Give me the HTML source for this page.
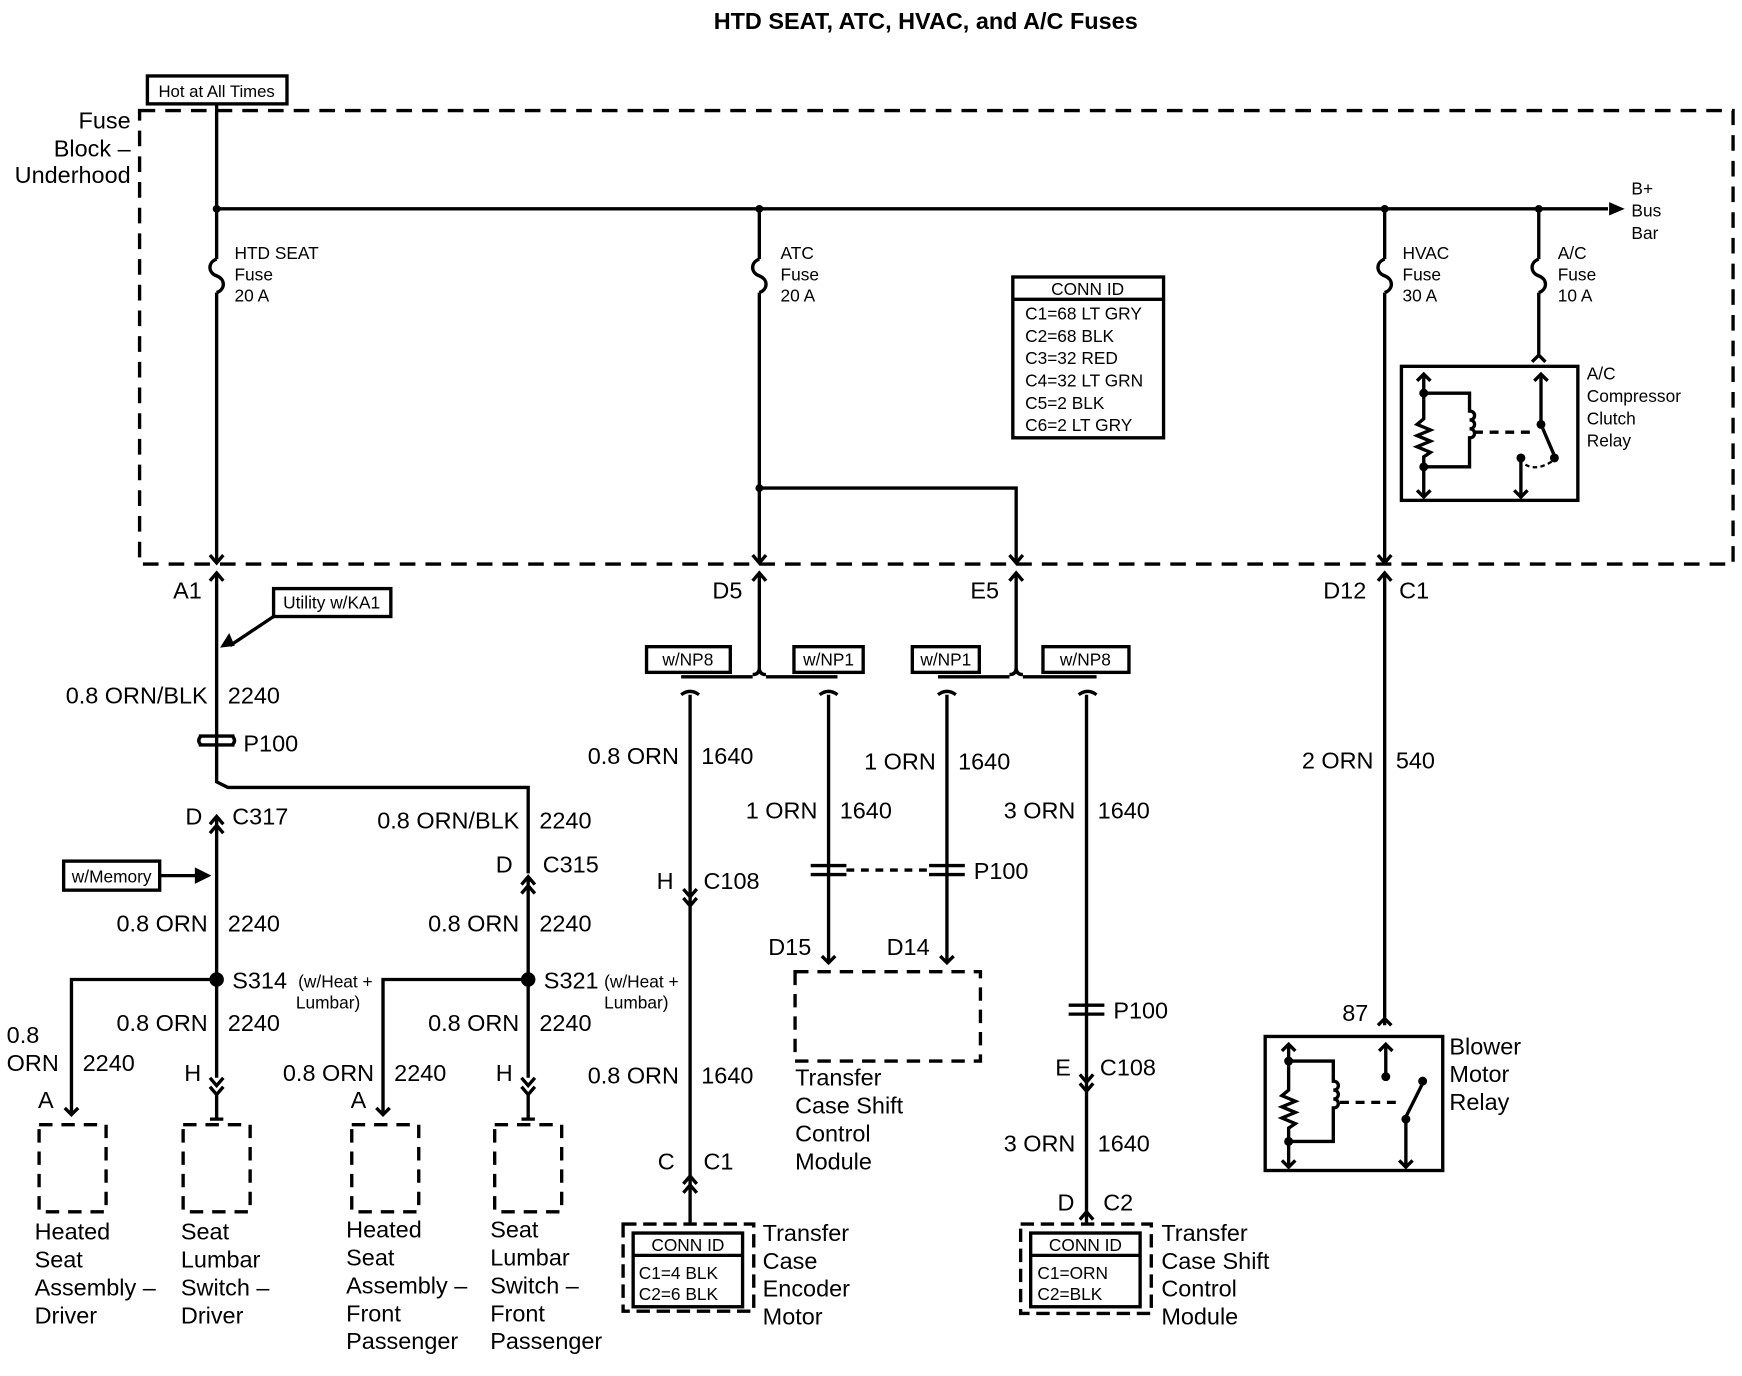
<!DOCTYPE html>
<html><head><meta charset="utf-8"><style>
html,body{margin:0;padding:0;background:#fff}
svg{display:block}
text{font-family:"Liberation Sans",Arial,sans-serif;fill:#000}
.m{font-size:21px}
.s{font-size:15.5px}
.b{font-size:15px}
</style></head><body>
<svg width="1742" height="1376" viewBox="0 0 1560 1232" preserveAspectRatio="none" xmlns="http://www.w3.org/2000/svg">
<g fill="none" stroke="#000" stroke-width="3">
<!-- fuse block dashed -->
<rect x="125" y="99" width="1427" height="406" stroke-dasharray="14,9"/>
<rect x="132" y="68" width="125" height="25"/>
<!-- bus -->
<line x1="194" y1="187" x2="1440" y2="187"/>
<!-- HTD seat wire -->
<path d="M194 93 V232 M194 262 V503"/>
<path d="M194 232 c-8 3 -8 12 0 15 c8 3 8 12 0 15"/>
<!-- ATC -->
<path d="M680 187 V232 M680 262 V503 M680 437 H910 V503"/>
<path d="M680 232 c-8 3 -8 12 0 15 c8 3 8 12 0 15"/>
<!-- HVAC -->
<path d="M1240 187 V232 M1240 262 V503"/>
<path d="M1240 232 c-8 3 -8 12 0 15 c8 3 8 12 0 15"/>
<!-- A/C -->
<path d="M1378 187 V232 M1378 262 V318"/>
<path d="M1378 232 c-8 3 -8 12 0 15 c8 3 8 12 0 15"/>
<path d="M1372 324 l6 -6 l6 6"/>
<!-- A/C relay -->
<rect x="1255" y="328" width="158" height="120"/>
<path d="M1275 335 V358 M1275 418 V445 M1269 341 l6 -6 l6 6 M1269 439 l6 6 l6 -6"/>
<path d="M1275 358 V375 l-6 5 l12 5 l-12 5 l12 5 l-12 5 l12 5 l-6 4 V418"/>
<path d="M1275 352 H1316 V368 c6 0 6 8 0 8 c6 0 6 8 0 8 c6 0 6 8 0 8 V418 H1275"/>
<path d="M1320 387 H1374" stroke-dasharray="8,6"/>
<path d="M1380 335 V380 L1392 408 M1374 341 l6 -6 l6 6"/>
<path d="M1362 410 V446 M1356 439 l6 6 l6 -6"/>
<path d="M1366 416 q10 6 24 -3" stroke-width="2" stroke-dasharray="4,3"/>
<!-- CONN ID -->
<rect x="907" y="248" width="135" height="144"/>
<line x1="907" y1="268" x2="1042" y2="268"/>
<!-- chevrons at fuse block bottom -->
<path d="M188 497 l6 7 l6 -7 M188 520 l6 -7 l6 7 M674 497 l6 7 l6 -7 M674 520 l6 -7 l6 7 M904 497 l6 7 l6 -7 M904 520 l6 -7 l6 7 M1234 497 l6 7 l6 -7 M1234 520 l6 -7 l6 7"/>
<!-- left column -->
<path d="M194 513 V700 L204 705 H473 V782"/>
<rect x="245" y="527" width="105" height="25"/>
<path d="M245 552 L206 578"/>
<path d="M200 578 l8 -1 l-3 -7 z" fill="#000"/>
<path d="M178 659 h32 M178 667 h32 M180 659 q-4 4 0 8 M208 659 q4 4 0 8"/>
<path d="M188 738 l6 -7 l6 7 M188 746 l6 -7 l6 7 M194 731 V965"/>
<rect x="57" y="771" width="86" height="26"/>
<path d="M143 784 H178"/><path d="M186 784 l-10 -5 v10 z" fill="#000"/>
<path d="M467 792 l6 -7 l6 7 M467 800 l6 -7 l6 7 M473 785 V965"/>
<circle cx="194" cy="877" r="5" fill="#000"/><circle cx="473" cy="877" r="5" fill="#000"/>
<path d="M194 877 H64 V998 M58 992 l6 6 l6 -6"/>
<path d="M473 877 H343 V998 M337 992 l6 6 l6 -6"/>
<path d="M188 965 l6 7 l6 -7 M188 973 l6 7 l6 -7 M194 980 V1002 M188 1002 h12"/>
<path d="M467 965 l6 7 l6 -7 M467 973 l6 7 l6 -7 M473 980 V1002 M467 1002 h12"/>
<g stroke-dasharray="12,8">
<rect x="35" y="1007" width="60" height="78"/><rect x="164" y="1007" width="60" height="78"/>
<rect x="315" y="1007" width="60" height="78"/><rect x="443" y="1007" width="60" height="78"/>
<rect x="712" y="870" width="166" height="80"/>
</g>
<!-- D5 / E5 branches -->
<path d="M680 513 V598 q0 6 -6 6 M680 598 q0 6 6 6"/>
<path d="M610 606 H674 M686 606 H750"/>
<path d="M610 622 q8 -6 16 0 M734 622 q8 -6 16 0"/>
<path d="M910 513 V598 q0 6 -6 6 M910 598 q0 6 6 6"/>
<path d="M840 606 H904 M916 606 H982"/>
<path d="M840 622 q8 -6 16 0 M966 622 q8 -6 16 0"/>
<rect x="579" y="579" width="75" height="23"/><rect x="711" y="579" width="62" height="23"/>
<rect x="817" y="579" width="60" height="23"/><rect x="934" y="579" width="77" height="23"/>
<path d="M618 622 V1095 M742 622 V860 M848 622 V860 M973 622 V1095"/>
<path d="M612 796 l6 7 l6 -7 M612 804 l6 7 l6 -7"/>
<path d="M612 1060 l6 -7 l6 7 M612 1068 l6 -7 l6 7"/>
<path d="M726 775 h32 M726 783 h32 M832 775 h32 M832 783 h32"/>
<path d="M758 779 H832" stroke-dasharray="7,6"/>
<path d="M736 856 l6 6 l6 -6 M842 856 l6 6 l6 -6"/>
<path d="M957 900 h32 M957 908 h32"/>
<path d="M967 962 l6 7 l6 -7 M967 970 l6 7 l6 -7"/>
<path d="M967 1092 l6 -7 l6 7"/>
<rect x="558" y="1096" width="117" height="78" stroke-dasharray="12,6"/>
<rect x="567" y="1104" width="98" height="66"/><line x1="567" y1="1124" x2="665" y2="1124"/>
<rect x="914" y="1096" width="117" height="80" stroke-dasharray="12,6"/>
<rect x="923" y="1104" width="98" height="66"/><line x1="923" y1="1124" x2="1021" y2="1124"/>
<!-- right HVAC -->
<path d="M1240 513 V918 M1234 918 l6 -6 l6 6"/>
<rect x="1133" y="928" width="159" height="120"/>
<path d="M1154 935 V955 M1154 1022 V1045 M1148 941 l6 -6 l6 6 M1148 1039 l6 6 l6 -6"/>
<path d="M1154 955 V976 l-6 5 l12 5 l-12 5 l12 5 l-12 5 l12 5 l-6 4 V1022"/>
<path d="M1154 950 H1194 V968 c6 0 6 8 0 8 c6 0 6 8 0 8 c6 0 6 8 0 8 V1022 H1154"/>
<path d="M1200 987 H1254" stroke-dasharray="8,6"/>
<path d="M1241 935 V964 M1235 941 l6 -6 l6 6"/>
<path d="M1259 1005 V1045 M1253 1039 l6 6 l6 -6 M1259 1000 L1274 970"/>
</g>
<g fill="#000">
<circle cx="194" cy="187" r="3.5"/><circle cx="680" cy="187" r="3.5"/><circle cx="1240" cy="187" r="3.5"/><circle cx="1378" cy="187" r="3.5"/>
<circle cx="680" cy="437" r="3.5"/>
<path d="M1455 187 l-14 -6 v12 z"/>
<circle cx="1275" cy="352" r="4"/><circle cx="1275" cy="418" r="4"/><circle cx="1380" cy="380" r="4"/><circle cx="1392" cy="410" r="4"/><circle cx="1362" cy="410" r="4"/>
<circle cx="1154" cy="950" r="4"/><circle cx="1154" cy="1022" r="4"/><circle cx="1241" cy="964" r="4"/><circle cx="1274" cy="968" r="4"/><circle cx="1259" cy="1002" r="4"/>
</g>
<text x="829" y="26" text-anchor="middle" style="font-size:21px;font-weight:bold">HTD SEAT, ATC, HVAC, and A/C Fuses</text>
<text x="194" y="87" text-anchor="middle" class="b">Hot at All Times</text>
<g class="m" text-anchor="end"><text x="117" y="115">Fuse</text><text x="117" y="140">Block –</text><text x="117" y="164">Underhood</text></g>
<g class="s">
<text x="1461" y="174">B+</text><text x="1461" y="194">Bus</text><text x="1461" y="214">Bar</text>
<text x="210" y="232">HTD SEAT</text><text x="210" y="251">Fuse</text><text x="210" y="270">20 A</text>
<text x="699" y="232">ATC</text><text x="699" y="251">Fuse</text><text x="699" y="270">20 A</text>
<text x="1256" y="232">HVAC</text><text x="1256" y="251">Fuse</text><text x="1256" y="270">30 A</text>
<text x="1395" y="232">A/C</text><text x="1395" y="251">Fuse</text><text x="1395" y="270">10 A</text>
<text x="1421" y="340">A/C</text><text x="1421" y="360">Compressor</text><text x="1421" y="380">Clutch</text><text x="1421" y="400">Relay</text>
<text x="974" y="264" text-anchor="middle">CONN ID</text>
<text x="918" y="286">C1=68 LT GRY</text><text x="918" y="306">C2=68 BLK</text><text x="918" y="326">C3=32 RED</text><text x="918" y="346">C4=32 LT GRN</text><text x="918" y="366">C5=2 BLK</text><text x="918" y="386">C6=2 LT GRY</text>
<text x="297" y="545" text-anchor="middle">Utility w/KA1</text>
<text x="100" y="790" text-anchor="middle">w/Memory</text>
<text x="616" y="596" text-anchor="middle">w/NP8</text><text x="742" y="596" text-anchor="middle">w/NP1</text>
<text x="847" y="596" text-anchor="middle">w/NP1</text><text x="972" y="596" text-anchor="middle">w/NP8</text>
<text x="616" y="1120" text-anchor="middle">CONN ID</text><text x="572" y="1145">C1=4 BLK</text><text x="572" y="1164">C2=6 BLK</text>
<text x="972" y="1120" text-anchor="middle">CONN ID</text><text x="929" y="1145">C1=ORN</text><text x="929" y="1164">C2=BLK</text>
<text x="267" y="884">(w/Heat +</text><text x="265" y="903">Lumbar)</text>
<text x="541" y="884">(w/Heat +</text><text x="541" y="903">Lumbar)</text>
</g>
<g class="m">
<text x="155" y="536">A1</text><text x="638" y="536">D5</text><text x="869" y="536">E5</text><text x="1185" y="536">D12</text><text x="1253" y="536">C1</text>
<text x="186" y="630" text-anchor="end">0.8 ORN/BLK</text><text x="204" y="630">2240</text>
<text x="218" y="673">P100</text>
<text x="166" y="738">D</text><text x="208" y="738">C317</text>
<text x="465" y="742" text-anchor="end">0.8 ORN/BLK</text><text x="483" y="742">2240</text>
<text x="444" y="781">D</text><text x="486" y="781">C315</text>
<text x="186" y="834" text-anchor="end">0.8 ORN</text><text x="204" y="834">2240</text>
<text x="465" y="834" text-anchor="end">0.8 ORN</text><text x="483" y="834">2240</text>
<text x="208" y="885">S314</text><text x="487" y="885">S321</text>
<text x="186" y="923" text-anchor="end">0.8 ORN</text><text x="204" y="923">2240</text>
<text x="465" y="923" text-anchor="end">0.8 ORN</text><text x="483" y="923">2240</text>
<text x="6" y="934">0.8</text><text x="6" y="959">ORN</text><text x="74" y="959">2240</text>
<text x="335" y="968" text-anchor="end">0.8 ORN</text><text x="353" y="968">2240</text>
<text x="165" y="968">H</text><text x="444" y="968">H</text><text x="34" y="992">A</text><text x="314" y="992">A</text>
<text x="31" y="1110">Heated</text><text x="31" y="1135">Seat</text><text x="31" y="1160">Assembly –</text><text x="31" y="1185">Driver</text>
<text x="162" y="1110">Seat</text><text x="162" y="1135">Lumbar</text><text x="162" y="1160">Switch –</text><text x="162" y="1185">Driver</text>
<text x="310" y="1108">Heated</text><text x="310" y="1133">Seat</text><text x="310" y="1158">Assembly –</text><text x="310" y="1183">Front</text><text x="310" y="1208">Passenger</text>
<text x="439" y="1108">Seat</text><text x="439" y="1133">Lumbar</text><text x="439" y="1158">Switch –</text><text x="439" y="1183">Front</text><text x="439" y="1208">Passenger</text>
<text x="608" y="684" text-anchor="end">0.8 ORN</text><text x="628" y="684">1640</text>
<text x="732" y="733" text-anchor="end">1 ORN</text><text x="752" y="733">1640</text>
<text x="838" y="689" text-anchor="end">1 ORN</text><text x="858" y="689">1640</text>
<text x="963" y="733" text-anchor="end">3 ORN</text><text x="983" y="733">1640</text>
<text x="588" y="796">H</text><text x="630" y="796">C108</text>
<text x="872" y="787">P100</text>
<text x="688" y="855">D15</text><text x="794" y="855">D14</text>
<text x="712" y="972">Transfer</text><text x="712" y="997">Case Shift</text><text x="712" y="1022">Control</text><text x="712" y="1047">Module</text>
<text x="608" y="970" text-anchor="end">0.8 ORN</text><text x="628" y="970">1640</text>
<text x="589" y="1047">C</text><text x="630" y="1047">C1</text>
<text x="683" y="1111">Transfer</text><text x="683" y="1136">Case</text><text x="683" y="1161">Encoder</text><text x="683" y="1186">Motor</text>
<text x="997" y="912">P100</text>
<text x="945" y="963">E</text><text x="985" y="963">C108</text>
<text x="963" y="1031" text-anchor="end">3 ORN</text><text x="983" y="1031">1640</text>
<text x="947" y="1084">D</text><text x="988" y="1084">C2</text>
<text x="1040" y="1111">Transfer</text><text x="1040" y="1136">Case Shift</text><text x="1040" y="1161">Control</text><text x="1040" y="1186">Module</text>
<text x="1230" y="688" text-anchor="end">2 ORN</text><text x="1250" y="688">540</text>
<text x="1202" y="914">87</text>
<text x="1298" y="944">Blower</text><text x="1298" y="969">Motor</text><text x="1298" y="994">Relay</text>
</g>
</svg>
</body></html>
